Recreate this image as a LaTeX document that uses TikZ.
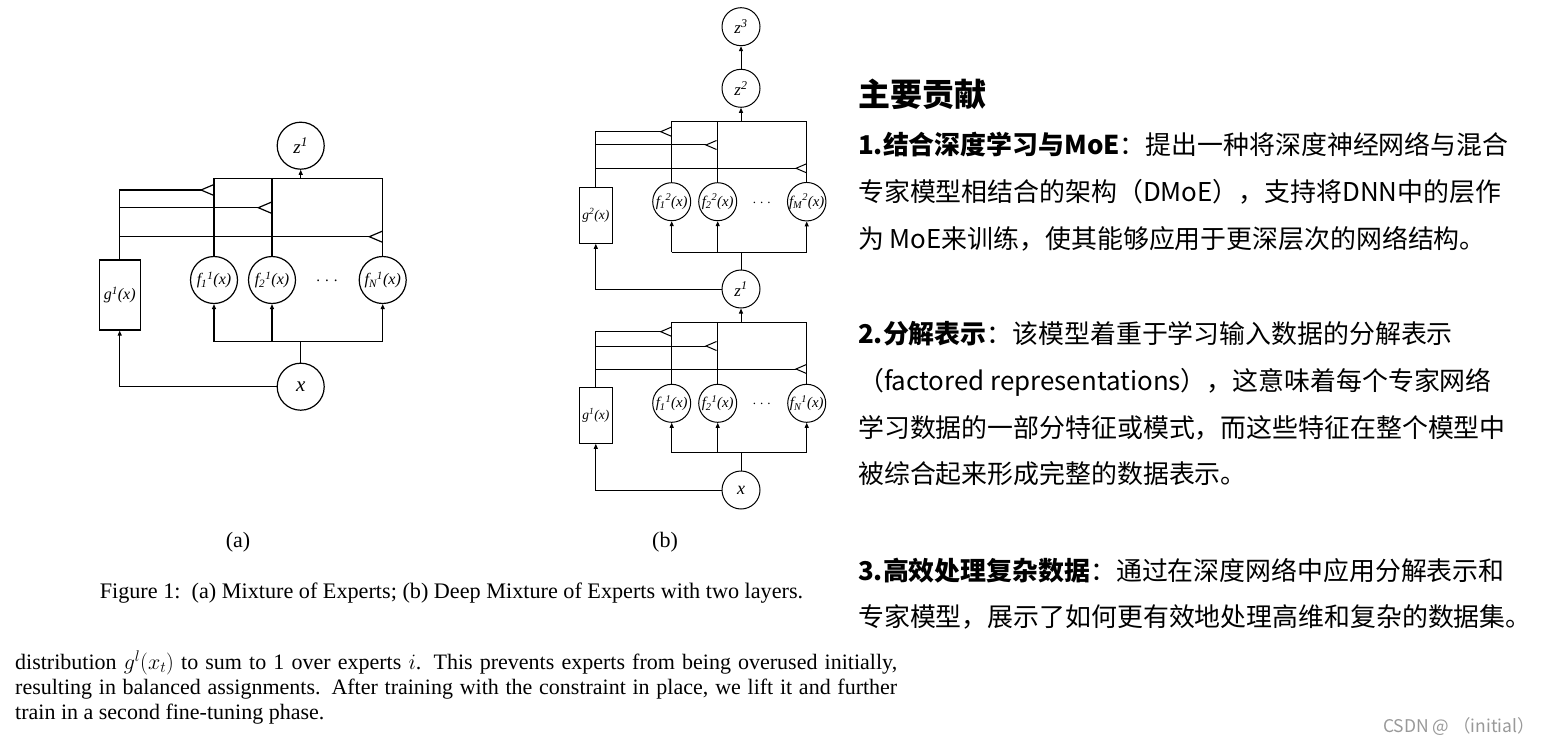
\RequirePackage{fix-cm}
\documentclass[tikz,border=0pt]{standalone}
\usepackage[no-math]{fontspec}
\setmainfont{Liberation Serif}
\newfontfamily\cjk{Noto Sans CJK SC}
\usetikzlibrary{arrows.meta, positioning, calc}

\newcommand{\fexp}[2]{f\textsubscript{#1}\textsuperscript{#2}(x)}
\newcommand{\gexp}[1]{g\textsuperscript{#1}(x)}

\tikzset{
  wirea/.style={line width=1.2pt},
  wireb/.style={line width=1pt},
  expa/.style={circle, draw, line width=1.2pt, minimum size=47pt, inner sep=0pt, font=\fontsize{16}{17}\selectfont\itshape},
  expb/.style={circle, draw, line width=1pt, minimum size=38pt, inner sep=0pt, font=\fontsize{14.8}{15}\selectfont\itshape},
  gatea/.style={rectangle, draw, line width=1.2pt, minimum width=41pt, minimum height=70pt, inner sep=0pt, font=\fontsize{16}{17}\selectfont\itshape},
  gateb/.style={rectangle, draw, line width=1pt, minimum width=33pt, minimum height=56pt, inner sep=0pt, font=\fontsize{13.5}{14}\selectfont\itshape},
  dotsa/.style={inner sep=0pt, font=\fontsize{15}{17}\selectfont},
  dotsb/.style={inner sep=0pt, font=\fontsize{13}{15}\selectfont},
  cntitle/.style={anchor=base west, inner sep=0pt, font=\cjk\bfseries\fontsize{32}{36}\selectfont},
  cnbody/.style={anchor=base west, inner sep=0pt, font=\cjk\fontsize{25.9}{30}\selectfont},
  enbody/.style={anchor=base west, inner sep=0pt, font=\fontsize{22}{25}\selectfont},
}

\begin{document}
\begin{tikzpicture}[x=1pt, y=-1pt, >={Triangle[length=5pt,width=4pt]}]
\useasboundingbox (0,0) rectangle (1541,746);

% 图 (a): 混合专家
\node[expa, font=\fontsize{19}{21}\selectfont\itshape] (za) at (300.7,145.7) {z\textsuperscript{1}};
\node[expa] (f1a) at (214,280) {\fexp{1}{1}};
\node[expa] (f2a) at (272,280) {\fexp{2}{1}};
\node[dotsa] (dota) at (327,281) {.\hspace{5pt}.\hspace{5pt}.};
\node[expa] (fNa) at (382.7,280) {\fexp{N}{1}};
\node[gatea] (ga) at (119.7,295) {\gexp{1}};
\node[expa, font=\fontsize{21}{23}\selectfont\itshape] (xa) at (300.7,386.7) {x};
\coordinate (topa) at (300.7,178.7); % 输出汇合线
\coordinate (bota) at (300.7,341.7); % 输入分支线
\coordinate (ta1) at (201,190);
\coordinate (ta2) at (258.3,207.7);
\coordinate (ta3) at (369.3,236.7);

\begin{scope}[wirea]
\draw (f1a.north) -- (f1a.north |- topa) -- (fNa.north |- topa) -- (fNa.north);
\draw (f2a.north) -- (f2a.north |- topa);
\draw[->] (topa) -- (za.south);
\draw (xa.north) -- (bota);
\draw (f1a.south |- bota) -- (fNa.south |- bota);
\draw[->] (f1a.south |- bota) -- (f1a.south);
\draw[->] (f2a.south |- bota) -- (f2a.south);
\draw[->] (fNa.south |- bota) -- (fNa.south);
\draw[->] (xa.west) -| (ga.south);
% 门控线与三角形
\draw (ga.north) |- (ta1);
\draw (ga.north |- ta2) -- (ta2);
\draw (ga.north |- ta3) -- (ta3);
\draw ([shift={(13,-5.5)}]ta1) -- (ta1) -- ++(13,5.5);
\draw ([shift={(13,-5.5)}]ta2) -- (ta2) -- ++(13,5.5);
\draw ([shift={(13,-5.5)}]ta3) -- (ta3) -- ++(13,5.5);
\end{scope}

% 图 (b): 两层深度混合专家
\node[expb, font=\fontsize{17}{18}\selectfont\itshape] (z3b) at (741,26.7) {z\textsuperscript{3}};
\node[expb, font=\fontsize{17}{18}\selectfont\itshape] (z2b) at (741,88.3) {z\textsuperscript{2}};
\node[expb] (f1u) at (671.7,201.7) {\fexp{1}{2}};
\node[expb] (f2u) at (717.7,201.7) {\fexp{2}{2}};
\node[dotsb] (dotu) at (761.7,202.7) {.\hspace{4pt}.\hspace{4pt}.};
\node[expb] (fMu) at (806.7,201.7) {\fexp{M}{2}};
\node[gateb] (g2b) at (595.8,215.3) {\gexp{2}};
\node[expb, font=\fontsize{17}{18}\selectfont\itshape] (z1b) at (741,289) {z\textsuperscript{1}};
\node[expb] (f1l) at (671.7,403.3) {\fexp{1}{1}};
\node[expb] (f2l) at (717.7,403.3) {\fexp{2}{1}};
\node[dotsb] (dotl) at (761.7,404.3) {.\hspace{4pt}.\hspace{4pt}.};
\node[expb] (fNl) at (806.7,403.3) {\fexp{N}{1}};
\node[gateb] (g1b) at (595.8,415.3) {\gexp{1}};
\node[expb, font=\fontsize{18}{19}\selectfont\itshape] (xb) at (741,490) {x};
\coordinate (topu) at (741,121.7);
\coordinate (botu) at (741,252.3);
\coordinate (topl) at (741,322.3);
\coordinate (botl) at (741,452.7);
\coordinate (tu1) at (660.7,131.7);
\coordinate (tu2) at (706,145);
\coordinate (tu3) at (796,168.3);
\coordinate (tl1) at (660.7,331.7);
\coordinate (tl2) at (706,346);
\coordinate (tl3) at (796,369);

\begin{scope}[wireb]
\draw[->] (z2b.north) -- (z3b.south);
% 第二层
\draw (f1u.north) -- (f1u.north |- topu) -- (fMu.north |- topu) -- (fMu.north);
\draw (f2u.north) -- (f2u.north |- topu);
\draw[->] (topu) -- (z2b.south);
\draw (z1b.north) -- (botu);
\draw (f1u.south |- botu) -- (fMu.south |- botu);
\draw[->] (f1u.south |- botu) -- (f1u.south);
\draw[->] (f2u.south |- botu) -- (f2u.south);
\draw[->] (fMu.south |- botu) -- (fMu.south);
\draw[->] (z1b.west) -| (g2b.south);
\draw (g2b.north) |- (tu1);
\draw (g2b.north |- tu2) -- (tu2);
\draw (g2b.north |- tu3) -- (tu3);
\draw ([shift={(10.5,-4.5)}]tu1) -- (tu1) -- ++(10.5,4.5);
\draw ([shift={(10.5,-4.5)}]tu2) -- (tu2) -- ++(10.5,4.5);
\draw ([shift={(10.5,-4.5)}]tu3) -- (tu3) -- ++(10.5,4.5);
% 第一层
\draw (f1l.north) -- (f1l.north |- topl) -- (fNl.north |- topl) -- (fNl.north);
\draw (f2l.north) -- (f2l.north |- topl);
\draw[->] (topl) -- (z1b.south);
\draw (xb.north) -- (botl);
\draw (f1l.south |- botl) -- (fNl.south |- botl);
\draw[->] (f1l.south |- botl) -- (f1l.south);
\draw[->] (f2l.south |- botl) -- (f2l.south);
\draw[->] (fNl.south |- botl) -- (fNl.south);
\draw[->] (xb.west) -| (g1b.south);
\draw (g1b.north) |- (tl1);
\draw (g1b.north |- tl2) -- (tl2);
\draw (g1b.north |- tl3) -- (tl3);
\draw ([shift={(10.5,-4.5)}]tl1) -- (tl1) -- ++(10.5,4.5);
\draw ([shift={(10.5,-4.5)}]tl2) -- (tl2) -- ++(10.5,4.5);
\draw ([shift={(10.5,-4.5)}]tl3) -- (tl3) -- ++(10.5,4.5);
\end{scope}

% 图注
\node[anchor=base, font=\fontsize{22}{24}\selectfont] (capa) at (238,547) {(a)};
\node[anchor=base, font=\fontsize{22}{24}\selectfont] (capb) at (665,547) {(b)};
\node[anchor=base, font=\fontsize{22.2}{24}\selectfont] (cap) at (451.5,598) {Figure 1:\ \ (a) Mixture of Experts; (b) Deep Mixture of Experts with two layers.};

% 论文正文
\node[enbody] (en1) at (15,669) {\makebox[882pt][s]{distribution $g^l(x_t)$ to sum to 1 over experts $i$. This prevents experts from being overused initially,}};
\node[enbody] (en2) at (15,694) {\makebox[882pt][s]{resulting in balanced assignments. After training with the constraint in place, we lift it and further}};
\node[enbody] (en3) at (15,719) {train in a second fine-tuning phase.};

% 右侧说明
\node[cntitle] (title) at (858,107) {主要贡献};
\node[cnbody] (p11) at (858,155) {{\bfseries 1.结合深度学习与MoE}：提出一种将深度神经网络与混合};
\node[cnbody] (p12) at (858,201) {专家模型相结合的架构（DMoE），支持将DNN中的层作};
\node[cnbody] (p13) at (858,248) {为 MoE来训练，使其能够应用于更深层次的网络结构。};
\node[cnbody] (p21) at (858,343) {{\bfseries 2.分解表示}：该模型着重于学习输入数据的分解表示};
\node[cnbody] (p22) at (858,390) {（factored representations），这意味着每个专家网络};
\node[cnbody] (p23) at (858,437) {学习数据的一部分特征或模式，而这些特征在整个模型中};
\node[cnbody] (p24) at (858,483) {被综合起来形成完整的数据表示。};
\node[cnbody] (p31) at (858,580) {{\bfseries 3.高效处理复杂数据}：通过在深度网络中应用分解表示和};
\node[cnbody] (p32) at (858,626) {专家模型，展示了如何更有效地处理高维和复杂的数据集。};

% 水印
\node[anchor=base east, inner sep=0pt, text=black!40, font=\cjk\fontsize{17.5}{20}\selectfont] (mark) at (1535,732) {CSDN @ （initial）};
\end{tikzpicture}
\end{document}
